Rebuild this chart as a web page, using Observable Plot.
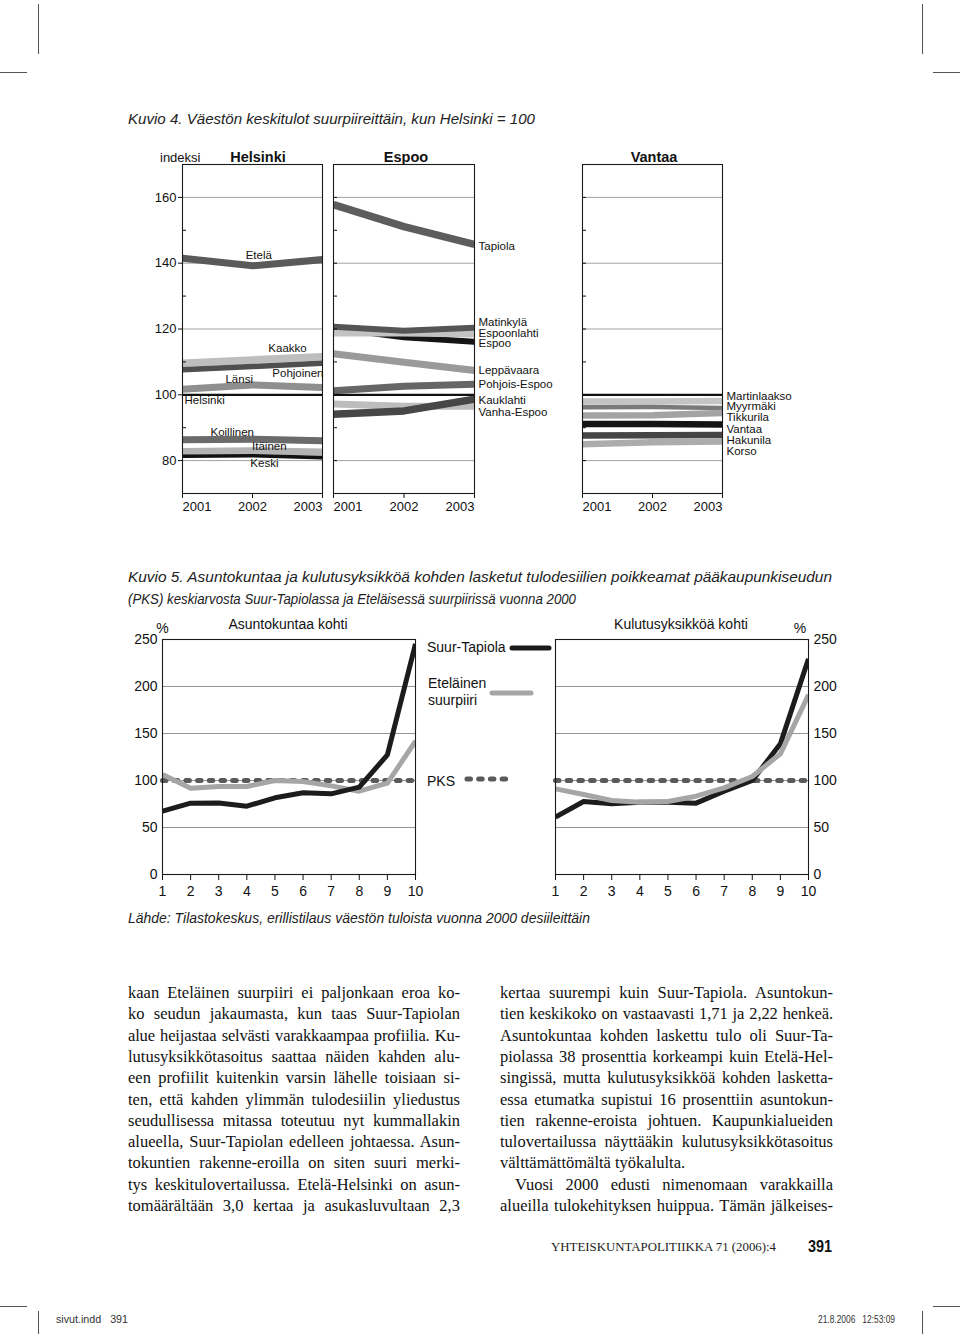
<!DOCTYPE html>
<html><head><meta charset="utf-8">
<script src="https://cdn.jsdelivr.net/npm/d3@7"></script>
<script src="https://cdn.jsdelivr.net/npm/@observablehq/plot@0.6"></script>
<style>
html,body{margin:0;padding:0;background:#fff;}
#page{position:relative;width:960px;height:1334px;overflow:hidden;background:#fff;color:#111;}
</style>
</head><body><div id="page"></div>
<script>
// ---------------- DATA ----------------
// Kuvio 4: index, Helsinki = 100
const years = [2001, 2002, 2003];
// Helsinki suurpiirit
const etela = [141.5, 139.2, 141.1];
const kaakko = [109.6, 110.6, 111.6];
const pohjoinen = [107.6, 108.6, 109.6];
const lansi = [101.7, 103.0, 102.2];
const helsinkiIndex = [100, 100, 100];
const koillinen = [86.3, 86.5, 86.0];
const itainen = [82.8, 83.0, 82.6];
const keski = [81.3, 81.5, 80.9];
// Espoo
const tapiola = [157.8, 151.1, 145.7];
const matinkyla = [120.7, 119.5, 120.4];
const espoonlahti = [118.8, 118.8, 118.5];
const espooKoko = [120.2, 117.5, 116.1];
const leppavaara = [112.5, 109.9, 107.4];
const pohjoisEspoo = [101.2, 102.6, 103.2];
const kauklahti = [94.1, 95.1, 98.7];
const vanhaEspoo = [97.2, 96.5, 96.5];
// Vantaa
const martinlaakso = [98.0, 98.0, 98.1];
const myyrmaki = [96.2, 96.3, 96.0];
const tikkurila = [93.7, 93.8, 94.5];
const vantaaKoko = [91.1, 91.1, 91.0];
const hakunila = [87.6, 87.7, 87.8];
const korso = [85.0, 85.6, 85.8];

const k4Series = [
  {panel:"Helsinki", name:"Etelä", values:etela},
  {panel:"Helsinki", name:"Kaakko", values:kaakko},
  {panel:"Helsinki", name:"Pohjoinen", values:pohjoinen},
  {panel:"Helsinki", name:"Länsi", values:lansi},
  {panel:"Helsinki", name:"Helsinki", values:helsinkiIndex},
  {panel:"Helsinki", name:"Koillinen", values:koillinen},
  {panel:"Helsinki", name:"Itäinen", values:itainen},
  {panel:"Helsinki", name:"Keski", values:keski},
  {panel:"Espoo", name:"Tapiola", values:tapiola},
  {panel:"Espoo", name:"Espoo", values:espooKoko},
  {panel:"Espoo", name:"Espoonlahti", values:espoonlahti},
  {panel:"Espoo", name:"Matinkylä", values:matinkyla},
  {panel:"Espoo", name:"Leppävaara", values:leppavaara},
  {panel:"Espoo", name:"Pohjois-Espoo", values:pohjoisEspoo},
  {panel:"Espoo", name:"Helsinki", values:helsinkiIndex},
  {panel:"Espoo", name:"Vanha-Espoo", values:vanhaEspoo},
  {panel:"Espoo", name:"Kauklahti", values:kauklahti},
  {panel:"Vantaa", name:"Helsinki", values:helsinkiIndex},
  {panel:"Vantaa", name:"Martinlaakso", values:martinlaakso},
  {panel:"Vantaa", name:"Myyrmäki", values:myyrmaki},
  {panel:"Vantaa", name:"Tikkurila", values:tikkurila},
  {panel:"Vantaa", name:"Vantaa", values:vantaaKoko},
  {panel:"Vantaa", name:"Hakunila", values:hakunila},
  {panel:"Vantaa", name:"Korso", values:korso}
];

// label placements (annotation anchors, in data units)
const k4Labels = [
  {panel:"Helsinki", text:"Etelä", year:2002.09, value:142.5, anchor:"middle"},
  {panel:"Helsinki", text:"Kaakko", year:2002.5, value:114.0, anchor:"middle"},
  {panel:"Helsinki", text:"Länsi", year:2001.81, value:104.8, anchor:"middle"},
  {panel:"Helsinki", text:"Pohjoinen", year:2003, value:106.4, anchor:"end"},
  {panel:"Helsinki", text:"Helsinki", year:2001, value:98.3, anchor:"start"},
  {panel:"Helsinki", text:"Koillinen", year:2001.71, value:88.7, anchor:"middle"},
  {panel:"Helsinki", text:"Itäinen", year:2002.24, value:84.2, anchor:"middle"},
  {panel:"Helsinki", text:"Keski", year:2002.17, value:79.1, anchor:"middle"},
  {panel:"Espoo", text:"Tapiola", year:2003, value:145.2, anchor:"start"},
  {panel:"Espoo", text:"Matinkylä", year:2003, value:122.0, anchor:"start"},
  {panel:"Espoo", text:"Espoonlahti", year:2003, value:118.8, anchor:"start"},
  {panel:"Espoo", text:"Espoo", year:2003, value:115.5, anchor:"start"},
  {panel:"Espoo", text:"Leppävaara", year:2003, value:107.5, anchor:"start"},
  {panel:"Espoo", text:"Pohjois-Espoo", year:2003, value:103.2, anchor:"start"},
  {panel:"Espoo", text:"Kauklahti", year:2003, value:98.2, anchor:"start"},
  {panel:"Espoo", text:"Vanha-Espoo", year:2003, value:94.7, anchor:"start"},
  {panel:"Vantaa", text:"Martinlaakso", year:2003, value:99.5, anchor:"start"},
  {panel:"Vantaa", text:"Myyrmäki", year:2003, value:96.4, anchor:"start"},
  {panel:"Vantaa", text:"Tikkurila", year:2003, value:93.1, anchor:"start"},
  {panel:"Vantaa", text:"Vantaa", year:2003, value:89.6, anchor:"start"},
  {panel:"Vantaa", text:"Hakunila", year:2003, value:86.3, anchor:"start"},
  {panel:"Vantaa", text:"Korso", year:2003, value:82.9, anchor:"start"}
];
const k4YMajor = [80, 100, 120, 140, 160];
const k4YMinor = [90, 110, 130, 150];
const k4Grid = [80, 120, 140, 160];

// Kuvio 5: deviation from PKS mean, %
const deciles = [1, 2, 3, 4, 5, 6, 7, 8, 9, 10];
const asSuurTapiola = [67.4, 75.9, 76.0, 72.7, 81.6, 86.9, 85.8, 92.9, 127.3, 245.4];
const asEtelainen = [106.4, 91.8, 93.6, 93.6, 100.0, 98.9, 94.3, 88.6, 97.2, 141.8];
const kuSuurTapiola = [61.0, 77.7, 75.2, 76.9, 76.9, 75.9, 88.6, 100.0, 139.0, 229.4];
const kuEtelainen = [91.1, 85.1, 78.7, 76.9, 77.7, 83.3, 92.2, 104.3, 128.4, 191.2];
const pks = [100, 100, 100, 100, 100, 100, 100, 100, 100, 100];
const k5Ticks = [0, 50, 100, 150, 200, 250];
const k5Grid = [50, 100, 150, 200];

// ---------------- STYLES ----------------
const SANS = '"Liberation Sans", Arial, Helvetica, sans-serif';
const SERIF = '"Liberation Serif", "Times New Roman", serif';
const NARROW = '"Liberation Sans Narrow", "Liberation Sans", Arial, sans-serif';

const k4Style = {
  "Etelä": ["#5a5a5a", 7], "Kaakko": ["#bebebe", 7.5], "Pohjoinen": ["#4f4f4f", 5.5],
  "Länsi": ["#8f8f8f", 7], "Helsinki": ["#111", 2.2], "Koillinen": ["#6b6b6b", 7],
  "Itäinen": ["#b3b3b3", 7], "Keski": ["#111", 3.5],
  "Tapiola": ["#5d5d5d", 7.5], "Matinkylä": ["#555", 6], "Espoonlahti": ["#c2c2c2", 7],
  "Espoo": ["#141414", 6], "Leppävaara": ["#9a9a9a", 7], "Pohjois-Espoo": ["#666", 7],
  "Kauklahti": ["#474747", 7.5], "Vanha-Espoo": ["#bdbdbd", 7],
  "Martinlaakso": ["#c4c4c4", 6.5], "Myyrmäki": ["#7a7a7a", 4.5], "Tikkurila": ["#a3a3a3", 6.5],
  "Vantaa": ["#141414", 6.5], "Hakunila": ["#454545", 6.5], "Korso": ["#acacac", 6.5]
};

const page = document.getElementById("page");

function txt(str, x, y, o = {}) {
  const {size = 13, weight = "normal", style = "normal", family = SANS, anchor = "start", color = "#111", fit = null} = o;
  const d = document.createElement("div");
  d.textContent = str;
  Object.assign(d.style, {position:"absolute", left:x+"px", top:y+"px", fontSize:size+"px", fontWeight:weight,
    fontStyle:style, fontFamily:family, color, whiteSpace:"pre", lineHeight:"1"});
  page.appendChild(d);
  const w = d.getBoundingClientRect().width;
  const sx = fit ? fit / w : 1;
  const tx = anchor === "middle" ? -w * sx / 2 : anchor === "end" ? -w * sx : 0;
  d.style.transformOrigin = "0 50%";
  d.style.transform = `translate(${tx}px, -50%) scaleX(${sx})`;
  return d;
}

function hline(x, y, w, h = 1, c = "#333") {
  const d = document.createElement("div");
  Object.assign(d.style, {position:"absolute", left:x+"px", top:y+"px", width:w+"px", height:h+"px", background:c});
  page.appendChild(d);
}

function placeSvg(svg, left, top) {
  const w = document.createElement("div");
  Object.assign(w.style, {position:"absolute", left:left+"px", top:top+"px"});
  w.appendChild(svg);
  page.appendChild(w);
}

// crop marks
hline(38, 4, 1, 50, "#555"); hline(0, 72, 27, 1, "#555");
hline(922, 4, 1, 50, "#555"); hline(933, 72, 27, 1, "#555");
hline(0, 1306, 27, 1, "#555"); hline(933, 1306, 27, 1, "#555");
hline(38, 1311, 1, 23, "#555"); hline(922, 1311, 1, 23, "#555");

// ---------------- KUVIO 4 ----------------
txt("Kuvio 4. Väestön keskitulot suurpiireittäin, kun Helsinki = 100", 128, 118, {size:15, style:"italic", family:NARROW, fit:407, color:"#222"});
txt("indeksi", 160, 157, {size:13});
txt("Helsinki", 258, 157, {size:14.5, weight:"bold", anchor:"middle"});
txt("Espoo", 406, 157, {size:14.5, weight:"bold", anchor:"middle"});
txt("Vantaa", 654, 157, {size:14.5, weight:"bold", anchor:"middle"});

const k4Rows = k4Series.flatMap(s => years.map((yr, i) => ({panel:s.panel, name:s.name, year:yr, value:s.values[i]})));

function k4Panel(panel, {left, marginLeft, marginRight, yLabels}) {
  const innerW = panel === "Espoo" ? 141 : 140;
  const marks = [Plot.ruleY(k4Grid, {stroke:"#8a8a8a", strokeWidth:0.8})];
  for (const s of k4Series.filter(s => s.panel === panel)) {
    const [stroke, sw] = k4Style[s.name];
    marks.push(Plot.line(k4Rows.filter(d => d.panel === panel && d.name === s.name),
      {x:"year", y:"value", stroke, strokeWidth:sw, strokeLinecap:"butt", strokeLinejoin:"round", clip:true}));
  }
  marks.push(Plot.frame({stroke:"#1a1a1a", strokeWidth:1.1}));
  if (yLabels) marks.push(Plot.axisY({ticks:k4YMajor, tickSize:4, tickPadding:2, fontSize:13}));
  else marks.push(Plot.axisY({ticks:k4YMajor, tickSize:-4, tickFormat:() => ""}));
  marks.push(Plot.axisY({ticks:k4YMinor, tickSize:-4, tickFormat:() => ""}));
  marks.push(Plot.axisX({ticks:[2001], tickFormat:"d", textAnchor:"start", tickSize:5, tickPadding:3, fontSize:13}));
  marks.push(Plot.axisX({ticks:[2002], tickFormat:"d", tickSize:5, tickPadding:3, fontSize:13}));
  marks.push(Plot.axisX({ticks:[2003], tickFormat:"d", textAnchor:"end", tickSize:5, tickPadding:3, fontSize:13}));
  for (const a of ["start", "middle", "end"]) {
    const L = k4Labels.filter(l => l.panel === panel && l.anchor === a);
    if (!L.length) continue;
    const dx = a === "start" ? (panel === "Helsinki" ? 2 : 4) : a === "end" ? 1 : 0;
    marks.push(Plot.text(L, {x:"year", y:"value", text:"text", textAnchor:a, dx, fontSize:11.5, fill:"#111"}));
  }
  const svg = Plot.plot({
    width: marginLeft + innerW + marginRight, height: 14 + 329 + 27,
    marginLeft, marginRight, marginTop:14, marginBottom:27,
    x:{domain:[2001, 2003], label:null},
    y:{domain:[70, 170], label:null},
    style:{fontFamily:SANS, fontSize:"13px", color:"#111", background:"transparent", overflow:"visible"},
    marks
  });
  placeSvg(svg, left, 150);
}
k4Panel("Helsinki", {left:140, marginLeft:42, marginRight:10, yLabels:true});
k4Panel("Espoo", {left:325, marginLeft:8, marginRight:110, yLabels:false});
k4Panel("Vantaa", {left:574, marginLeft:8, marginRight:90, yLabels:false});

// ---------------- KUVIO 5 ----------------
txt("Kuvio 5. Asuntokuntaa ja kulutusyksikköä kohden lasketut tulodesiilien poikkeamat pääkaupunkiseudun", 128, 576, {size:15, style:"italic", family:NARROW, fit:704, color:"#222"});
txt("(PKS) keskiarvosta Suur-Tapiolassa ja Eteläisessä suurpiirissä vuonna 2000", 128, 598, {size:15, style:"italic", family:NARROW, fit:448, color:"#222"});
txt("Asuntokuntaa kohti", 288, 624, {size:14, anchor:"middle"});
txt("Kulutusyksikköä kohti", 681, 624, {size:14, anchor:"middle"});
txt("%", 162.5, 628, {size:14, anchor:"middle"});
txt("%", 800, 628, {size:14, anchor:"middle"});

function k5Rows(vals) { return deciles.map((d, i) => ({decile:d, value:vals[i]})); }

function k5Panel(tapiolaVals, etelaVals, grayOnTop, {left, marginLeft, marginRight, anchor}) {
  const lineT = Plot.line(k5Rows(tapiolaVals), {x:"decile", y:"value", stroke:"#1c1c1c", strokeWidth:5, strokeLinecap:"butt", strokeLinejoin:"round", clip:true});
  const lineE = Plot.line(k5Rows(etelaVals), {x:"decile", y:"value", stroke:"#a6a6a6", strokeWidth:5, strokeLinecap:"butt", strokeLinejoin:"round", clip:true});
  const svg = Plot.plot({
    width: marginLeft + 253 + marginRight, height: 24 + 235 + 35,
    marginLeft, marginRight, marginTop:24, marginBottom:35,
    x:{domain:[1, 10], label:null},
    y:{domain:[0, 250], label:null},
    style:{fontFamily:SANS, fontSize:"14px", color:"#111", background:"transparent", overflow:"visible"},
    marks:[
      Plot.ruleY(k5Grid, {stroke:"#8a8a8a", strokeWidth:0.9}),
      Plot.line(k5Rows(pks), {x:"decile", y:"value", stroke:"#5a5a5a", strokeWidth:5, strokeDasharray:"3.5,8.2", strokeLinecap:"round"}),
      grayOnTop ? lineT : lineE,
      grayOnTop ? lineE : lineT,
      Plot.frame({stroke:"#1a1a1a", strokeWidth:1.1}),
      Plot.axisY({anchor, ticks:k5Ticks, tickSize:0, tickPadding:5, fontSize:14}),
      Plot.axisX({ticks:deciles, tickFormat:"d", tickSize:6, tickPadding:6, fontSize:14})
    ]
  });
  placeSvg(svg, left, 615);
}
k5Panel(asSuurTapiola, asEtelainen, false, {left:115, marginLeft:47, marginRight:5, anchor:"left"});
k5Panel(kuSuurTapiola, kuEtelainen, true, {left:550, marginLeft:5, marginRight:40, anchor:"right"});

// legend
txt("Suur-Tapiola", 427, 647, {size:14});
txt("Eteläinen", 428, 683, {size:14});
txt("suurpiiri", 428, 700, {size:14});
txt("PKS", 427, 781, {size:14});
(function legend() {
  const ns = "http://www.w3.org/2000/svg";
  const svg = document.createElementNS(ns, "svg");
  svg.setAttribute("width", 960); svg.setAttribute("height", 1334);
  Object.assign(svg.style, {position:"absolute", left:"0", top:"0", pointerEvents:"none"});
  const mk = (x1, y, x2, c, dash) => {
    const l = document.createElementNS(ns, "line");
    l.setAttribute("x1", x1); l.setAttribute("x2", x2); l.setAttribute("y1", y); l.setAttribute("y2", y);
    l.setAttribute("stroke", c); l.setAttribute("stroke-width", 5); l.setAttribute("stroke-linecap", "round");
    if (dash) l.setAttribute("stroke-dasharray", dash);
    svg.appendChild(l);
  };
  mk(512, 648, 549, "#1c1c1c");
  mk(492, 693, 531, "#a6a6a6");
  mk(467, 779, 511, "#5a5a5a", "3.5,8.2");
  page.appendChild(svg);
})();

txt("Lähde: Tilastokeskus, erillistilaus väestön tuloista vuonna 2000 desiileittäin", 128, 918, {size:14, style:"italic", family:NARROW, fit:462, color:"#222"});

// ---------------- BODY TEXT ----------------
const leftLines = [
  "kaan Eteläinen suurpiiri ei paljonkaan eroa ko-",
  "ko seudun jakaumasta, kun taas Suur-Tapiolan",
  "alue heijastaa selvästi varakkaampaa profiilia. Ku-",
  "lutusyksikkötasoitus saattaa näiden kahden alu-",
  "een profiilit kuitenkin varsin lähelle toisiaan si-",
  "ten, että kahden ylimmän tulodesiilin yliedustus",
  "seudullisessa mitassa toteutuu nyt kummallakin",
  "alueella, Suur-Tapiolan edelleen johtaessa. Asun-",
  "tokuntien rakenne-eroilla on siten suuri merki-",
  "tys keskitulovertailussa. Etelä-Helsinki on asun-",
  "tomäärältään 3,0 kertaa ja asukasluvultaan 2,3"
];
const rightLines = [
  "kertaa suurempi kuin Suur-Tapiola. Asuntokun-",
  "tien keskikoko on vastaavasti 1,71 ja 2,22 henkeä.",
  "Asuntokuntaa kohden laskettu tulo oli Suur-Ta-",
  "piolassa 38 prosenttia korkeampi kuin Etelä-Hel-",
  "singissä, mutta kulutusyksikköä kohden lasketta-",
  "essa etumatka supistui 16 prosenttiin asuntokun-",
  "tien rakenne-eroista johtuen. Kaupunkialueiden",
  "tulovertailussa näyttääkin kulutusyksikkötasoitus",
  "välttämättömältä työkalulta.",
  "Vuosi 2000 edusti nimenomaan varakkailla",
  "alueilla tulokehityksen huippua. Tämän jälkeises-"
];
function bodyLine(str, x, y, w, justify, indent) {
  const d = document.createElement("div");
  Object.assign(d.style, {position:"absolute", left:(x + indent) + "px", top:y + "px", width:(w - indent) + "px",
    fontFamily:SERIF, fontSize:"16.5px", lineHeight:"1", whiteSpace:"nowrap", color:"#111", transform:"translateY(-50%)"});
  const span = document.createElement("span");
  span.textContent = str;
  d.appendChild(span);
  page.appendChild(d);
  const nat = span.getBoundingClientRect().width;
  const avail = w - indent;
  if (nat > avail - 6) d.style.letterSpacing = ((avail - 6 - nat) / str.length) + "px";
  if (justify) { d.style.whiteSpace = "normal"; d.style.textAlign = "justify"; d.style.textAlignLast = "justify"; }
}
leftLines.forEach((s, i) => bodyLine(s, 128, 993 + i * 21.3, 332, true, 0));
rightLines.forEach((s, i) => bodyLine(s, 500, 993 + i * 21.3, 333, i !== 8, i === 9 ? 15 : 0));

// footer
txt("YHTEISKUNTAPOLITIIKKA 71 (2006):4", 551, 1247, {size:12.5, family:SERIF, fit:225, color:"#222"});
txt("391", 808, 1247, {size:16, weight:"bold", fit:24});
txt("sivut.indd   391", 56, 1320, {size:10, family:NARROW, fit:72, color:"#333"});
txt("21.8.2006   12:53:09", 818, 1320, {size:10, family:NARROW, fit:77, color:"#333"});
</script>
</body></html>
